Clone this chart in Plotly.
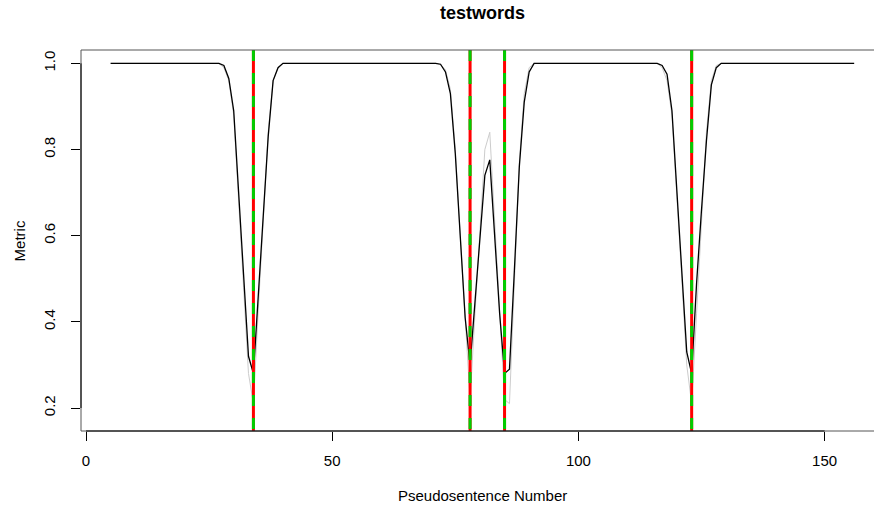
import plotly.graph_objects as go

# Metric series (black): pseudosentence number -> metric value
metric_x = [5, 27, 28, 29, 30, 31, 32, 33, 34, 35, 36, 37, 38, 39, 40,
            71, 72, 73, 74, 75, 76, 77, 78, 79, 80, 81, 82, 83, 84, 85, 86, 87, 88, 89, 90, 91,
            116, 117, 118, 119, 120, 121, 122, 123, 124, 125, 126, 127, 128, 129, 156]
metric_y = [1.0, 1.0, 0.995, 0.965, 0.89, 0.70, 0.51, 0.32, 0.28, 0.46, 0.64, 0.83, 0.96, 0.99, 1.0,
            1.0, 0.998, 0.98, 0.93, 0.79, 0.60, 0.41, 0.30, 0.45, 0.60, 0.74, 0.776, 0.60, 0.42, 0.28, 0.29, 0.52, 0.76, 0.91, 0.98, 1.0,
            1.0, 0.995, 0.975, 0.89, 0.71, 0.52, 0.33, 0.28, 0.49, 0.66, 0.82, 0.95, 0.99, 1.0, 1.0]

# Reference series (grey)
ref_x = [5, 27, 28, 29, 30, 31, 32, 33, 34, 35, 36, 37, 38, 39, 40,
         71, 72, 73, 74, 75, 76, 77, 78, 79, 80, 81, 82, 83, 84, 85, 86, 87, 88, 89, 90, 91,
         116, 117, 118, 119, 120, 121, 122, 123, 124, 125, 126, 127, 128, 129, 156]
ref_y = [1.0, 1.0, 0.99, 0.96, 0.88, 0.69, 0.48, 0.28, 0.21, 0.43, 0.64, 0.84, 0.96, 0.99, 1.0,
         1.0, 0.997, 0.985, 0.94, 0.80, 0.60, 0.40, 0.22, 0.42, 0.62, 0.80, 0.84, 0.63, 0.42, 0.22, 0.21, 0.50, 0.77, 0.93, 0.99, 1.0,
         1.0, 0.99, 0.96, 0.88, 0.70, 0.50, 0.30, 0.21, 0.42, 0.64, 0.84, 0.96, 0.995, 1.0, 1.0]

# Sentence boundaries
boundaries = [34, 78, 85, 123]

x_ticks = [0, 50, 100, 150]
y_ticks = [0.2, 0.4, 0.6, 0.8, 1.0]
y_tick_text = ["0.2", "0.4", "0.6", "0.8", "1.0"]

FONT = "Liberation Sans, Arial, Helvetica, sans-serif"

fig = go.Figure()
fig.add_trace(go.Scatter(x=ref_x, y=ref_y, mode="lines",
                         line=dict(color="#cccccc", width=1), hoverinfo="skip"))
fig.add_trace(go.Scatter(x=metric_x, y=metric_y, mode="lines",
                         line=dict(color="black", width=1.3), hoverinfo="skip"))

shapes = []
for b in boundaries:
    shapes.append(dict(type="line", xref="x", yref="paper", x0=b, x1=b, y0=0, y1=1,
                       line=dict(color="#ff0000", width=3)))
    shapes.append(dict(type="line", xref="x", yref="paper", x0=b, x1=b, y0=1, y1=0,
                       line=dict(color="#00cd00", width=3, dash="11px,12px")))

# plot frame (left, top, bottom)
frame = dict(color="#555555", width=1)
shapes += [
    dict(type="line", xref="paper", yref="paper", x0=0, x1=0, y0=0, y1=1, line=frame),
    dict(type="line", xref="paper", yref="paper", x0=0, x1=1, y0=1, y1=1, line=frame),
    dict(type="line", xref="paper", yref="paper", x0=0, x1=1, y0=0, y1=0, line=frame),
    dict(type="line", xref="x", yref="paper", x0=x_ticks[0], x1=x_ticks[-1], y0=0, y1=0,
         line=dict(color="black", width=1)),
    dict(type="line", xref="paper", yref="y", x0=0, x1=0, y0=y_ticks[0], y1=y_ticks[-1],
         line=dict(color="black", width=1)),
]

annotations = [
    dict(text="<b>testwords</b>", xref="paper", yref="paper", x=0.5057, y=1.097,
         showarrow=False, font=dict(family=FONT, size=18, color="black"),
         xanchor="center", yanchor="middle"),
    dict(text="Pseudosentence Number", xref="paper", yref="paper", x=0.5057, y=-0.17,
         showarrow=False, font=dict(family=FONT, size=15, color="black"),
         xanchor="center", yanchor="middle"),
    dict(text="Metric", xref="paper", yref="paper", x=-0.077, y=0.5, textangle=-90,
         showarrow=False, font=dict(family=FONT, size=15, color="black"),
         xanchor="center", yanchor="middle"),
]

fig.update_layout(
    width=874, height=506,
    margin=dict(l=81, r=0, t=50, b=75, pad=0),
    paper_bgcolor="white", plot_bgcolor="white",
    showlegend=False,
    shapes=shapes,
    annotations=annotations,
    font=dict(family=FONT, size=15, color="black"),
)
fig.update_xaxes(range=[-1.015, 160.03], tickvals=x_ticks, ticks="outside", ticklen=9,
                 tickcolor="black", tickwidth=1, showgrid=False, zeroline=False,
                 showline=False, ticklabelstandoff=7,
                 tickfont=dict(family=FONT, size=15, color="black"))
fig.update_yaxes(range=[0.1466, 1.031], tickvals=y_ticks, ticktext=y_tick_text,
                 tickangle=-90, ticks="outside", ticklen=9, tickcolor="black", tickwidth=1,
                 showgrid=False, zeroline=False, showline=False, ticklabelstandoff=10,
                 tickfont=dict(family=FONT, size=15, color="black"))

fig.write_html("out.html")
